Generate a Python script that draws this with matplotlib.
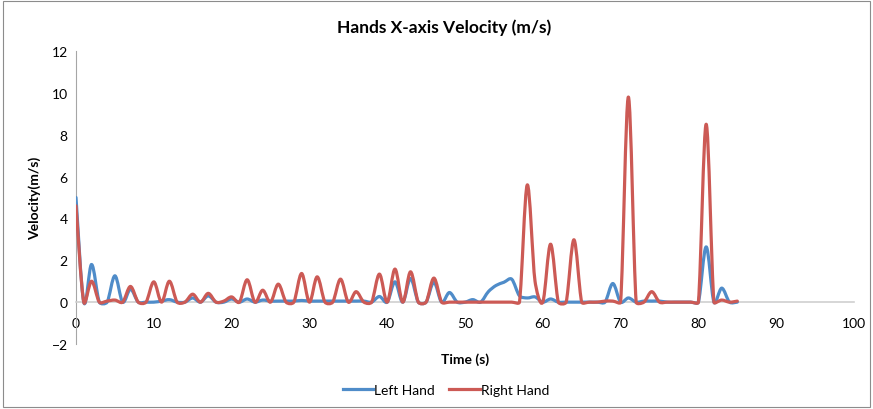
import numpy as np
import matplotlib
matplotlib.use("Agg")
import matplotlib.pyplot as plt
from matplotlib.path import Path
from matplotlib.patches import PathPatch, Rectangle
from matplotlib.lines import Line2D

plt.rcParams['font.family'] = ['Lato', 'DejaVu Sans']

time_s = list(range(0, 86))
left_hand = [5.0, 0, 1.8, 0, 0, 1.26, 0, 0.62, 0, 0,
             0, 0.05, 0.12, 0, 0, 0.2, 0, 0.3, 0, 0,
             0.15, 0, 0.15, 0, 0.1, 0.05, 0.05, 0.05, 0.05, 0.08,
             0.05, 0.05, 0.05, 0.05, 0.05, 0.05, 0.05, 0.05, 0, 0.27,
             0, 0.97, 0, 1.13, 0, 0, 0.95, 0, 0.46, 0,
             0, 0.12, 0, 0.5, 0.8, 0.95, 1.1, 0.3, 0.2, 0.25,
             0, 0.15, 0, 0, 0, 0, 0, 0, 0, 0.89,
             0, 0.2, 0, 0.05, 0.05, 0.05, 0, 0, 0, 0,
             0, 2.64, 0, 0.67, 0, 0]
right_hand = [4.6, 0, 1.0, 0, 0.05, 0.1, 0, 0.75, 0, 0,
              0.97, 0, 1.0, 0, 0, 0.38, 0, 0.42, 0, 0.05,
              0.25, 0, 1.07, 0, 0.57, 0, 0.86, 0, 0, 1.37,
              0, 1.21, 0, 0, 1.1, 0, 0.5, 0, 0, 1.34,
              0, 1.58, 0, 1.45, 0, 0, 1.15, 0, 0, 0,
              0, 0, 0, 0, 0, 0, 0, 0, 5.6, 1.0,
              0, 2.77, 0, 0, 2.98, 0, 0, 0, 0.05, 0.05,
              0, 9.8, 0, 0, 0.5, 0, 0, 0, 0, 0,
              0, 8.5, 0, 0.1, 0, 0.05]
series_names = ["Left Hand", "Right Hand"]
series_colors = ["#4F8CC9", "#CC5A55"]
y_ticks = list(range(-2, 13, 2))
x_ticks = list(range(0, 101, 10))

fig = plt.figure(figsize=(8.73, 4.10), dpi=100)
ax = fig.add_axes([76/873, 1-345/410, (854-76)/873, (345-52)/410])
ax.set_xlim(0, 100)
ax.set_ylim(-2, 12)


def smooth_path(ax, xs, ys):
    pts = ax.transData.transform(np.column_stack([xs, ys]))
    n = len(pts)
    verts = [pts[0]]
    codes = [Path.MOVETO]
    for i in range(n - 1):
        p0 = pts[i - 1] if i > 0 else pts[i]
        p1 = pts[i]
        p2 = pts[i + 1]
        p3 = pts[i + 2] if i + 2 < n else pts[i + 1]
        d12 = np.hypot(*(p2 - p1))
        t1 = p2 - p0
        t2 = p3 - p1
        l1 = np.hypot(*t1)
        l2 = np.hypot(*t2)
        f1 = 1/6 * (min(1.0, 2 * d12 / l1) if l1 > 0 else 1)
        f2 = 1/6 * (min(1.0, 2 * d12 / l2) if l2 > 0 else 1)
        c1 = p1 + f1 * t1
        c2 = p2 - f2 * t2
        verts += [c1, c2, p2]
        codes += [Path.CURVE4] * 3
    verts = ax.transData.inverted().transform(np.array(verts))
    return Path(verts, codes)


for ys, col in zip([left_hand, right_hand], series_colors):
    patch = PathPatch(smooth_path(ax, time_s, ys), fill=False, edgecolor=col,
                      lw=2.3, capstyle='round', joinstyle='round', zorder=3)
    ax.add_patch(patch)

for s in ['top', 'right']:
    ax.spines[s].set_visible(False)
ax.spines['left'].set_color('#A6A6A6')
ax.spines['bottom'].set_color('#D0D0D0')
ax.spines['bottom'].set_linewidth(1.2)
ax.spines['bottom'].set_position(('data', 0))
ax.set_xticks(x_ticks)
ax.set_yticks(y_ticks)
ax.tick_params(axis='both', length=0, labelsize=10, colors='#000000')
ax.tick_params(axis='x', pad=11)
ax.tick_params(axis='y', pad=6)

ax.set_xlabel("Time (s)", fontsize=10, fontweight='bold')
ax.xaxis.set_label_coords(0.5, -0.03)
fig.text(35/873, 1-198/410, "Velocity(m/s)", rotation=90, fontsize=10,
         fontweight='bold', ha='center', va='center')
fig.text(444/873, 1-28/410, "Hands X-axis Velocity (m/s)", fontsize=12.5,
         fontweight='bold', ha='center', va='center')

handles = [Line2D([], [], color=c, lw=2.3) for c in series_colors]
fig.legend(handles, series_names, loc='center', bbox_to_anchor=(446/873, 1-391/410),
           ncol=2, frameon=False, fontsize=10, handlelength=2.2,
           handletextpad=0.1, columnspacing=1.0)

fig.patches.append(Rectangle((3/873, 2/410), 867/873, 406/410, transform=fig.transFigure,
                             fill=False, edgecolor='#8C8C8C', lw=0.8))

fig.savefig("out.png", dpi=100)
